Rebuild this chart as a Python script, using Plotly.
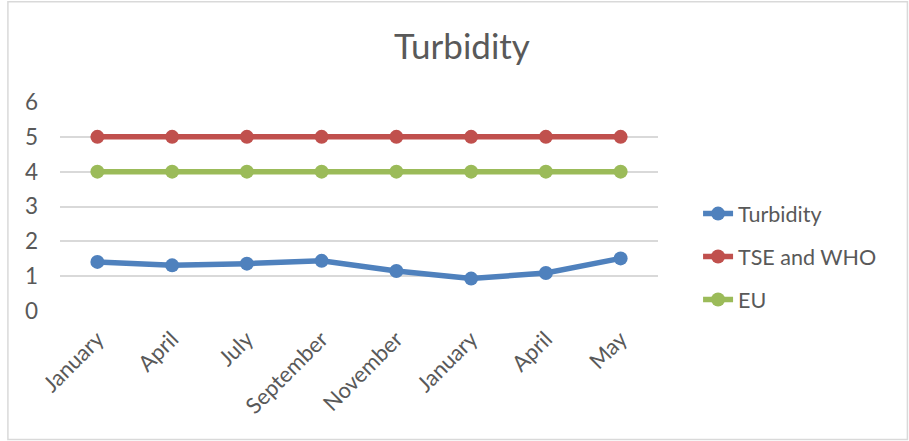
import plotly.graph_objects as go

months = ["January", "April", "July", "September", "November", "January", "April", "May"]
turbidity = [1.41, 1.31, 1.36, 1.44, 1.15, 0.93, 1.09, 1.51]
tse_who = [5, 5, 5, 5, 5, 5, 5, 5]
eu = [4, 4, 4, 4, 4, 4, 4, 4]
y_ticks = [0, 1, 2, 3, 4, 5, 6]

xpos = list(range(len(months)))

series = [
    ("Turbidity", turbidity, "#4F81BD"),
    ("TSE and WHO", tse_who, "#C0504D"),
    ("EU", eu, "#9BBB59"),
]

fig = go.Figure()
for name, vals, color in series:
    fig.add_trace(go.Scatter(
        x=xpos, y=vals, name=name, mode="lines+markers",
        line=dict(color=color, width=5.5),
        marker=dict(color=color, size=14),
        legendgroup=name,
    ))

fig.update_layout(
    width=909, height=441,
    margin=dict(l=60, r=251, t=102, b=130),
    paper_bgcolor="white", plot_bgcolor="white",
    font=dict(family="Lato, Open Sans, sans-serif", color="#595959", size=22),
    title=dict(text="Turbidity", x=(462) / 909, xanchor="center", y=1 - 47 / 441, yanchor="middle",
               font=dict(size=35, color="#595959")),
    showlegend=True,
    legend=dict(x=(697 - 60) / 597, y=(310.7 - 193) / 208.7, xanchor="left", yanchor="top",
                font=dict(size=21.5, color="#595959"), tracegroupgap=12,
                bgcolor="rgba(0,0,0,0)"),
    xaxis=dict(range=[-0.5, 7.5], tickmode="array", tickvals=xpos, ticktext=months,
               tickangle=-45, showgrid=False, zeroline=False, showline=False,
               ticklabelstandoff=10,
               tickfont=dict(size=22, color="#595959")),
    yaxis=dict(range=[0, 6], tickvals=y_ticks, showgrid=True, gridcolor="#D9D9D9", gridwidth=1.5,
               zeroline=False, showline=False, ticklabelstandoff=21,
               tickfont=dict(size=22.5, color="#595959")),
    shapes=[dict(type="rect", xref="paper", yref="paper",
                 x0=(8 - 60) / 597, x1=(906 - 60) / 597,
                 y0=(310.7 - 439) / 208.7, y1=(310.7 - 2) / 208.7,
                 line=dict(color="#D9D9D9", width=1.5), layer="below")],
)

fig.write_html("out.html", config={"displayModeBar": False},
               post_script="document.body.style.margin='0';")
